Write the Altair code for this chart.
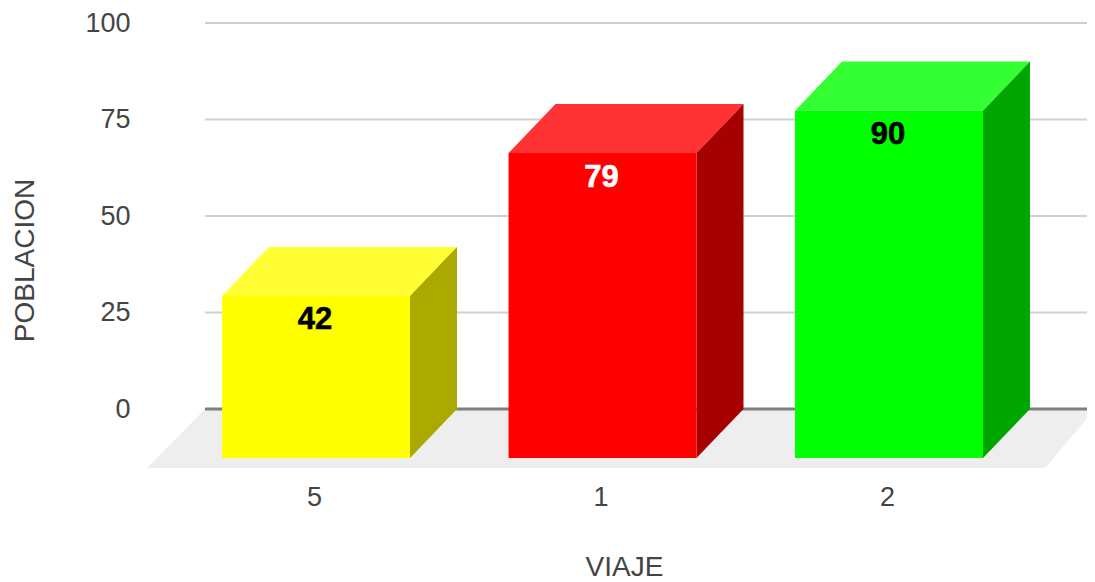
import altair as alt
import pandas as pd

categories = ["5", "1", "2"]
positions = [0, 1, 2]
values = [42, 79, 90]
front_colors = ["#ffff00", "#ff0000", "#00ff00"]
top_colors = ["#ffff33", "#ff3333", "#33ff33"]
side_colors = ["#a9a900", "#a60000", "#00a600"]
label_colors = ["#000000", "#ffffff", "#000000"]
y_ticks = [0, 25, 50, 75, 100]

HALF = 0.328      # half a bar, in category units
DX = 0.164        # depth of the box along x
DY = 12.7         # depth of the box along y
X_MIN, X_MAX = -0.59, 2.691
Y_MIN, Y_MAX = -15.28, 100
FLOOR_DX = 0.2024
FLOOR_RIGHT = 2.545
FLOOR_END = 2.719

FONT = "Liberation Sans"
x_scale = alt.Scale(domain=[X_MIN, X_MAX], nice=False, zero=False)
y_scale = alt.Scale(domain=[Y_MIN, Y_MAX], nice=False, zero=False)

axis_font = dict(labelFont=FONT, titleFont=FONT, labelFontSize=27, titleFontSize=28,
                 labelColor="#444444", titleColor="#444444", titleFontWeight="normal",
                 ticks=False, domain=False, grid=False)
label_expr = "{" + ",".join(f"'{p}':'{c}'" for p, c in zip(positions, categories)) + "}[datum.value]"
x_axis = alt.Axis(values=positions, labelExpr=label_expr, labelPadding=16, labelOffset=-2,
                  titleX=477, titleY=99, titleBaseline="middle", labelFlush=False, **axis_font)
y_axis = alt.Axis(values=y_ticks, labelPadding=17,
                  titleX=-122, titleY=237, titleBaseline="middle", **axis_font)
X = lambda f="x": alt.X(f"{f}:Q", scale=x_scale, axis=x_axis, title="VIAJE")
Y = lambda f="y": alt.Y(f"{f}:Q", scale=y_scale, axis=y_axis, title="POBLACION")

floor = pd.DataFrame({
    "x": [X_MIN, X_MIN + FLOOR_DX, FLOOR_RIGHT, FLOOR_END],
    "y": [Y_MIN, 0, 0, 0],
    "y2": [Y_MIN, Y_MIN, Y_MIN, 0],
})
grid = pd.DataFrame({"y": y_ticks, "x": X_MIN + FLOOR_DX, "x2": X_MAX})

top_rows, side_rows, front_rows = [], [], []
for p, v, tc, sc, fc, lc, cat in zip(positions, values, top_colors, side_colors,
                                     front_colors, label_colors, categories):
    l, r, ft = p - HALF, p + HALF, v - DY
    top_rows += [
        {"id": cat, "c": tc, "x": l, "y": ft, "y2": ft},
        {"id": cat, "c": tc, "x": l + DX, "y": v, "y2": ft},
        {"id": cat, "c": tc, "x": r, "y": v, "y2": ft},
        {"id": cat, "c": tc, "x": r + DX, "y": v, "y2": v},
    ]
    side_rows += [
        {"id": cat, "c": sc, "x": r, "y": ft, "y2": -DY},
        {"id": cat, "c": sc, "x": r + DX, "y": v, "y2": 0},
    ]
    front_rows.append({"id": cat, "c": fc, "lc": lc, "val": v, "x": l, "x2": r,
                       "y": ft, "y2": -DY, "cx": p})
top = pd.DataFrame(top_rows)
side = pd.DataFrame(side_rows)
front = pd.DataFrame(front_rows)

floor_layer = alt.Chart(floor).mark_area(color="#eeeeee", opacity=1, clip=True).encode(
    x=X(), y=Y(), y2="y2:Q")
grid_layer = alt.Chart(grid).transform_filter("datum.y != 0").mark_rule(color="#d0d0d0", strokeWidth=2).encode(
    x=X(), x2="x2:Q", y=Y())
zero_layer = alt.Chart(grid).transform_filter("datum.y == 0").mark_rule(color="#7f7f7f", strokeWidth=3).encode(
    x=X(), x2="x2:Q", y=Y())
top_layer = alt.Chart(top).mark_area(opacity=1).encode(
    x=X(), y=Y(), y2="y2:Q", detail="id:N", color=alt.Color("c:N", scale=None))
side_layer = alt.Chart(side).mark_area(opacity=1).encode(
    x=X(), y=Y(), y2="y2:Q", detail="id:N", color=alt.Color("c:N", scale=None))
front_layer = alt.Chart(front).mark_rect(opacity=1).encode(
    x=X(), x2="x2:Q", y=Y(), y2="y2:Q", color=alt.Color("c:N", scale=None))
text_layer = alt.Chart(front).mark_text(font=FONT, fontSize=31, fontWeight="bold", dx=-1, dy=24.5,
                                        baseline="middle", strokeWidth=0.6).encode(
    x=X("cx"), y=Y(), text=alt.Text("val:Q"),
    color=alt.Color("lc:N", scale=None), stroke=alt.Stroke("lc:N", scale=None))

chart = alt.layer(floor_layer, grid_layer, zero_layer, top_layer, side_layer, front_layer, text_layer).properties(
    width=940, height=445,
    padding={"left": 139, "top": 15, "right": 0, "bottom": 114},
    autosize=alt.AutoSizeParams(type="none"),
).configure_view(stroke=None)

chart.save("out.html", embed_options={"renderer": "svg", "actions": False})
